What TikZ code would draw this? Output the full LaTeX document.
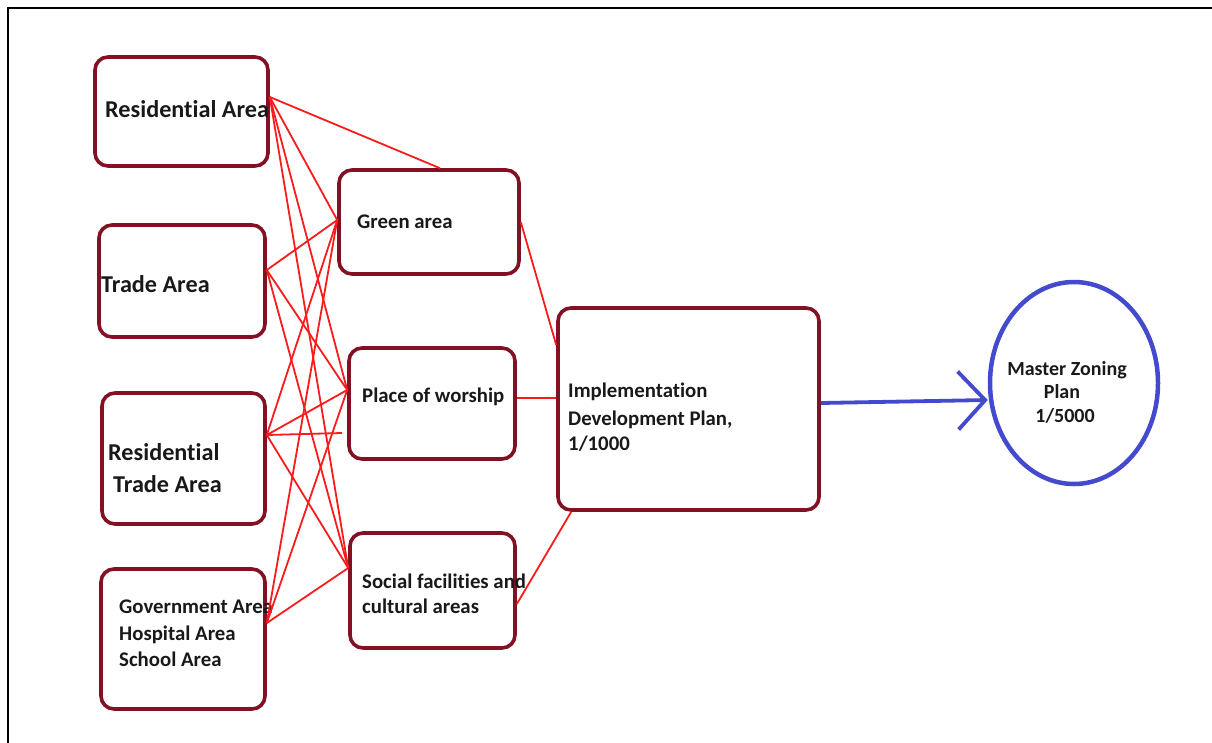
\documentclass[tikz,border=0pt]{standalone}
\usepackage{fontspec}
\setmainfont{Carlito}[Ligatures=NoCommon]
\usetikzlibrary{arrows.meta,shapes.geometric}
\definecolor{boxred}{RGB}{130,18,35}
\definecolor{linkred}{RGB}{250,28,28}
\definecolor{planblue}{RGB}{68,74,205}
\definecolor{textc}{RGB}{25,25,25}
\begin{document}
\begin{tikzpicture}[x=1pt,y=-1pt,
  box/.style={draw=boxred, line width=3.6pt, rounded corners=13pt, inner sep=0pt},
  txt/.style={anchor=base west, inner sep=0pt, text=textc, font=\bfseries\fontsize{20.8}{24}\selectfont},
  bigtxt/.style={txt, font=\bfseries\fontsize{24.2}{28}\selectfont},
  ctxt/.style={txt, anchor=base, font=\bfseries\fontsize{20}{24}\selectfont},
  link/.style={draw=linkred, line width=1.8pt},
  flow/.style={draw=planblue, line width=3.8pt, -{Straight Barb[length=27pt,width=58pt,line width=3.8pt]}}]
\useasboundingbox (0,0) rectangle (1212,742);
% frame
\draw[line width=2.5pt, black] (8,770) -- (8,8) -- (1240,8);

% left column
\node[box, minimum width=173pt, minimum height=109pt] (ra)  at (181.5,111.5) {};
\node[box, minimum width=166pt, minimum height=112pt] (ta)  at (182,281) {};
\node[box, minimum width=163pt, minimum height=131pt] (rta) at (183.5,458.5) {};
\node[box, minimum width=164pt, minimum height=140pt] (gov) at (183,639) {};
% middle column
\node[box, minimum width=180pt, minimum height=104pt] (gr) at (429,222) {};
\node[box, minimum width=166pt, minimum height=111pt] (pw) at (432,403.5) {};
\node[box, minimum width=165pt, minimum height=115pt] (sf) at (432.5,590.5) {};
% plan
\node[box, minimum width=261pt, minimum height=202pt] (imp) at (688.5,409) {};
\node[ellipse, draw=planblue, line width=4.5pt, minimum width=168pt, minimum height=202pt, inner sep=0pt] (mz) at (1074,383) {};

% texts
\node[bigtxt] (tra) at (105,117) {Residential Area};
\node[bigtxt] (tta) at (101,292) {Trade Area};
\node[bigtxt] (trta1) at (108,460) {Residential};
\node[bigtxt] (trta2) at (113,492) {Trade Area};
\node[txt] (tgov1) at (119,613) {Government Area};
\node[txt] (tgov2) at (119,640) {Hospital Area};
\node[txt] (tgov3) at (119,666) {School Area};
\node[txt] (tgr) at (357,228) {Green area};
\node[txt] (tpw) at (362,402) {Place of worship};
\node[txt] (tsf1) at (362,588) {Social facilities and};
\node[txt] (tsf2) at (362,613) {cultural areas};
\node[txt] (timp1) at (568,397) {Implementation};
\node[txt] (timp2) at (568,425) {Development Plan,};
\node[txt] (timp3) at (568,450) {1/1000};
\node[ctxt] (tmz1) at (1067,375) {Master Zoning};
\node[ctxt] (tmz2) at (1062,398) {Plan};
\node[ctxt] (tmz3) at (1065,422) {1/5000};

% ports
\coordinate (raP)  at ([yshift=14.5pt]ra.east);
\coordinate (taP)  at ([yshift=11pt]ta.east);
\coordinate (rtaP) at ([yshift=23.5pt]rta.east);
\coordinate (govP) at ([yshift=16pt]gov.east);
\coordinate (grL)  at ([yshift=2pt]gr.west);
\coordinate (pwL)  at ([yshift=13.5pt]pw.west);
\coordinate (sfL)  at ([yshift=22.5pt]sf.west);
\coordinate (grT)  at ([xshift=11pt]gr.north);
\coordinate (hEnd) at (342,433);
\coordinate (pwR)  at ([yshift=5.5pt]pw.east);
\coordinate (sfR)  at ([yshift=-13.5pt]sf.east);
\coordinate (impA) at ([yshift=64pt]imp.west);
\coordinate (impB) at ([yshift=11pt]imp.west);
\coordinate (impC) at ([xshift=15pt]imp.south west);
\coordinate (impR) at ([yshift=6pt]imp.east);
\coordinate (mzL)  at ([yshift=-17pt]mz.west);

% links
\foreach \l in {raP,taP,rtaP,govP}
  \foreach \m in {grL,pwL,sfL}
    \draw[link] (\l) -- (\m);
\draw[link] (raP) -- (grT);
\draw[link] (rtaP) -- (hEnd);
\draw[link] (gr.east) -- (impA);
\draw[link] (pwR) -- (impB);
\draw[link] (sfR) -- (impC);
\draw[flow] (impR) -- (mzL);
\end{tikzpicture}
\end{document}
